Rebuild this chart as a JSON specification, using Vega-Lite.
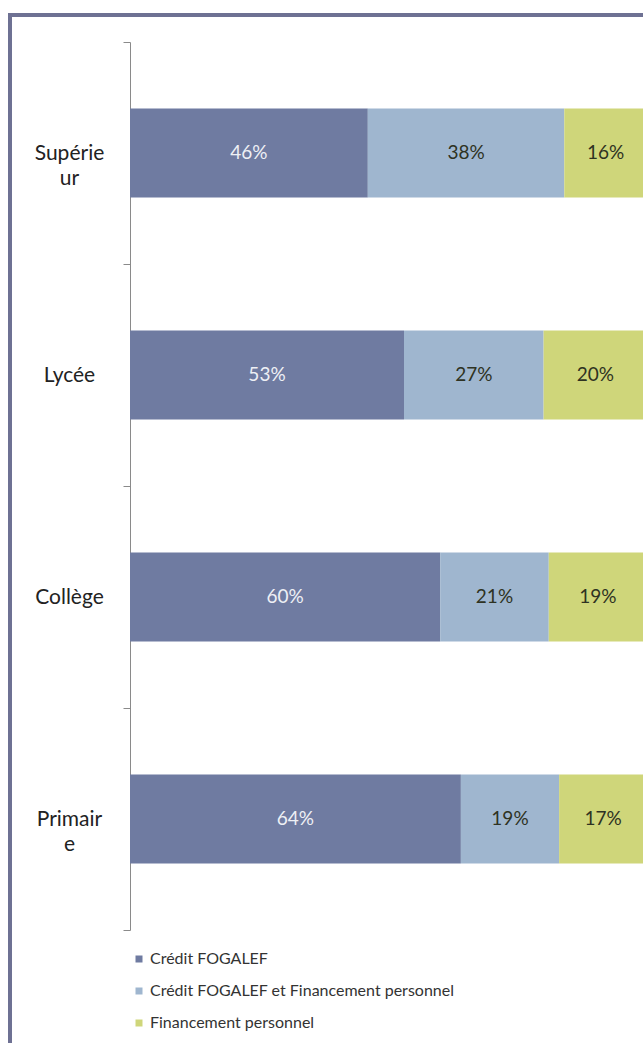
{
  "$schema": "https://vega.github.io/schema/vega-lite/v6.json",
  "autosize": {"type": "none"},
  "padding": {"left": 10, "top": 15, "right": 0, "bottom": 0},
  "width": 660,
  "height": 1060,
  "background": "white",
  "config": {
    "view": {"stroke": "#6e7193", "strokeWidth": 4},
    "font": "Lato"
  },
  "data": {
    "values": [
      {"niveau": "Supérieur", "mode": "Crédit FOGALEF", "ordre": 1, "part": 0.46},
      {"niveau": "Supérieur", "mode": "Crédit FOGALEF et Financement personnel", "ordre": 2, "part": 0.38},
      {"niveau": "Supérieur", "mode": "Financement personnel", "ordre": 3, "part": 0.16},
      {"niveau": "Lycée", "mode": "Crédit FOGALEF", "ordre": 1, "part": 0.53},
      {"niveau": "Lycée", "mode": "Crédit FOGALEF et Financement personnel", "ordre": 2, "part": 0.27},
      {"niveau": "Lycée", "mode": "Financement personnel", "ordre": 3, "part": 0.20},
      {"niveau": "Collège", "mode": "Crédit FOGALEF", "ordre": 1, "part": 0.60},
      {"niveau": "Collège", "mode": "Crédit FOGALEF et Financement personnel", "ordre": 2, "part": 0.21},
      {"niveau": "Collège", "mode": "Financement personnel", "ordre": 3, "part": 0.19},
      {"niveau": "Primaire", "mode": "Crédit FOGALEF", "ordre": 1, "part": 0.64},
      {"niveau": "Primaire", "mode": "Crédit FOGALEF et Financement personnel", "ordre": 2, "part": 0.19},
      {"niveau": "Primaire", "mode": "Financement personnel", "ordre": 3, "part": 0.17}
    ]
  },
  "transform": [
    {"stack": "part", "groupby": ["niveau"], "sort": [{"field": "ordre"}], "as": ["x0", "x1"]},
    {"calculate": "(datum.x0 + datum.x1) / 2", "as": "xm"}
  ],
  "encoding": {
    "y": {
      "field": "niveau",
      "type": "nominal",
      "sort": ["Supérieur", "Lycée", "Collège", "Primaire"],
      "scale": {"range": [27, 915], "paddingInner": 0, "paddingOuter": 0},
      "axis": {
        "title": null,
        "orient": "left",
        "offset": -120,
        "tickBand": "extent",
        "tickSize": 7,
        "tickColor": "#8a8a8a",
        "domainColor": "#8a8a8a",
        "labelAlign": "center",
        "labelBaseline": "middle",
        "labelPadding": 54,
        "labelFontSize": 21,
        "labelColor": "#222222",
        "labelLineHeight": 25,
        "labelExpr": "datum.value == 'Supérieur' ? ['Supérie','ur'] : datum.value == 'Primaire' ? ['Primair','e'] : datum.value"
      }
    }
  },
  "layer": [
    {
      "mark": {"type": "bar", "height": {"band": 0.4}},
      "encoding": {
        "x": {"field": "x0", "type": "quantitative", "scale": {"domain": [0, 1], "range": [120, 637]}, "axis": null},
        "x2": {"field": "x1"},
        "color": {
          "field": "mode",
          "type": "nominal",
          "sort": ["Crédit FOGALEF", "Crédit FOGALEF et Financement personnel", "Financement personnel"],
          "scale": {
            "domain": ["Crédit FOGALEF", "Crédit FOGALEF et Financement personnel", "Financement personnel"],
            "range": ["#6f7ba1", "#9fb6cf", "#cfd67a"]
          },
          "legend": {
            "title": null,
            "orient": "none",
            "legendX": 121,
            "legendY": 936,
            "direction": "vertical",
            "symbolType": "square",
            "symbolSize": 49,
            "symbolStrokeWidth": 0,
            "labelFontSize": 16,
            "labelLimit": 0,
            "labelColor": "#333333",
            "labelOffset": 3,
            "rowPadding": 16
          }
        }
      }
    },
    {
      "mark": {"type": "text", "fontSize": 19, "baseline": "middle", "align": "center"},
      "encoding": {
        "x": {"field": "xm", "type": "quantitative"},
        "text": {"field": "part", "type": "quantitative", "format": ".0%"},
        "color": {
          "condition": {"test": "datum.ordre == 1", "value": "#eef0f5"},
          "value": "#2e3222"
        }
      }
    }
  ]
}
